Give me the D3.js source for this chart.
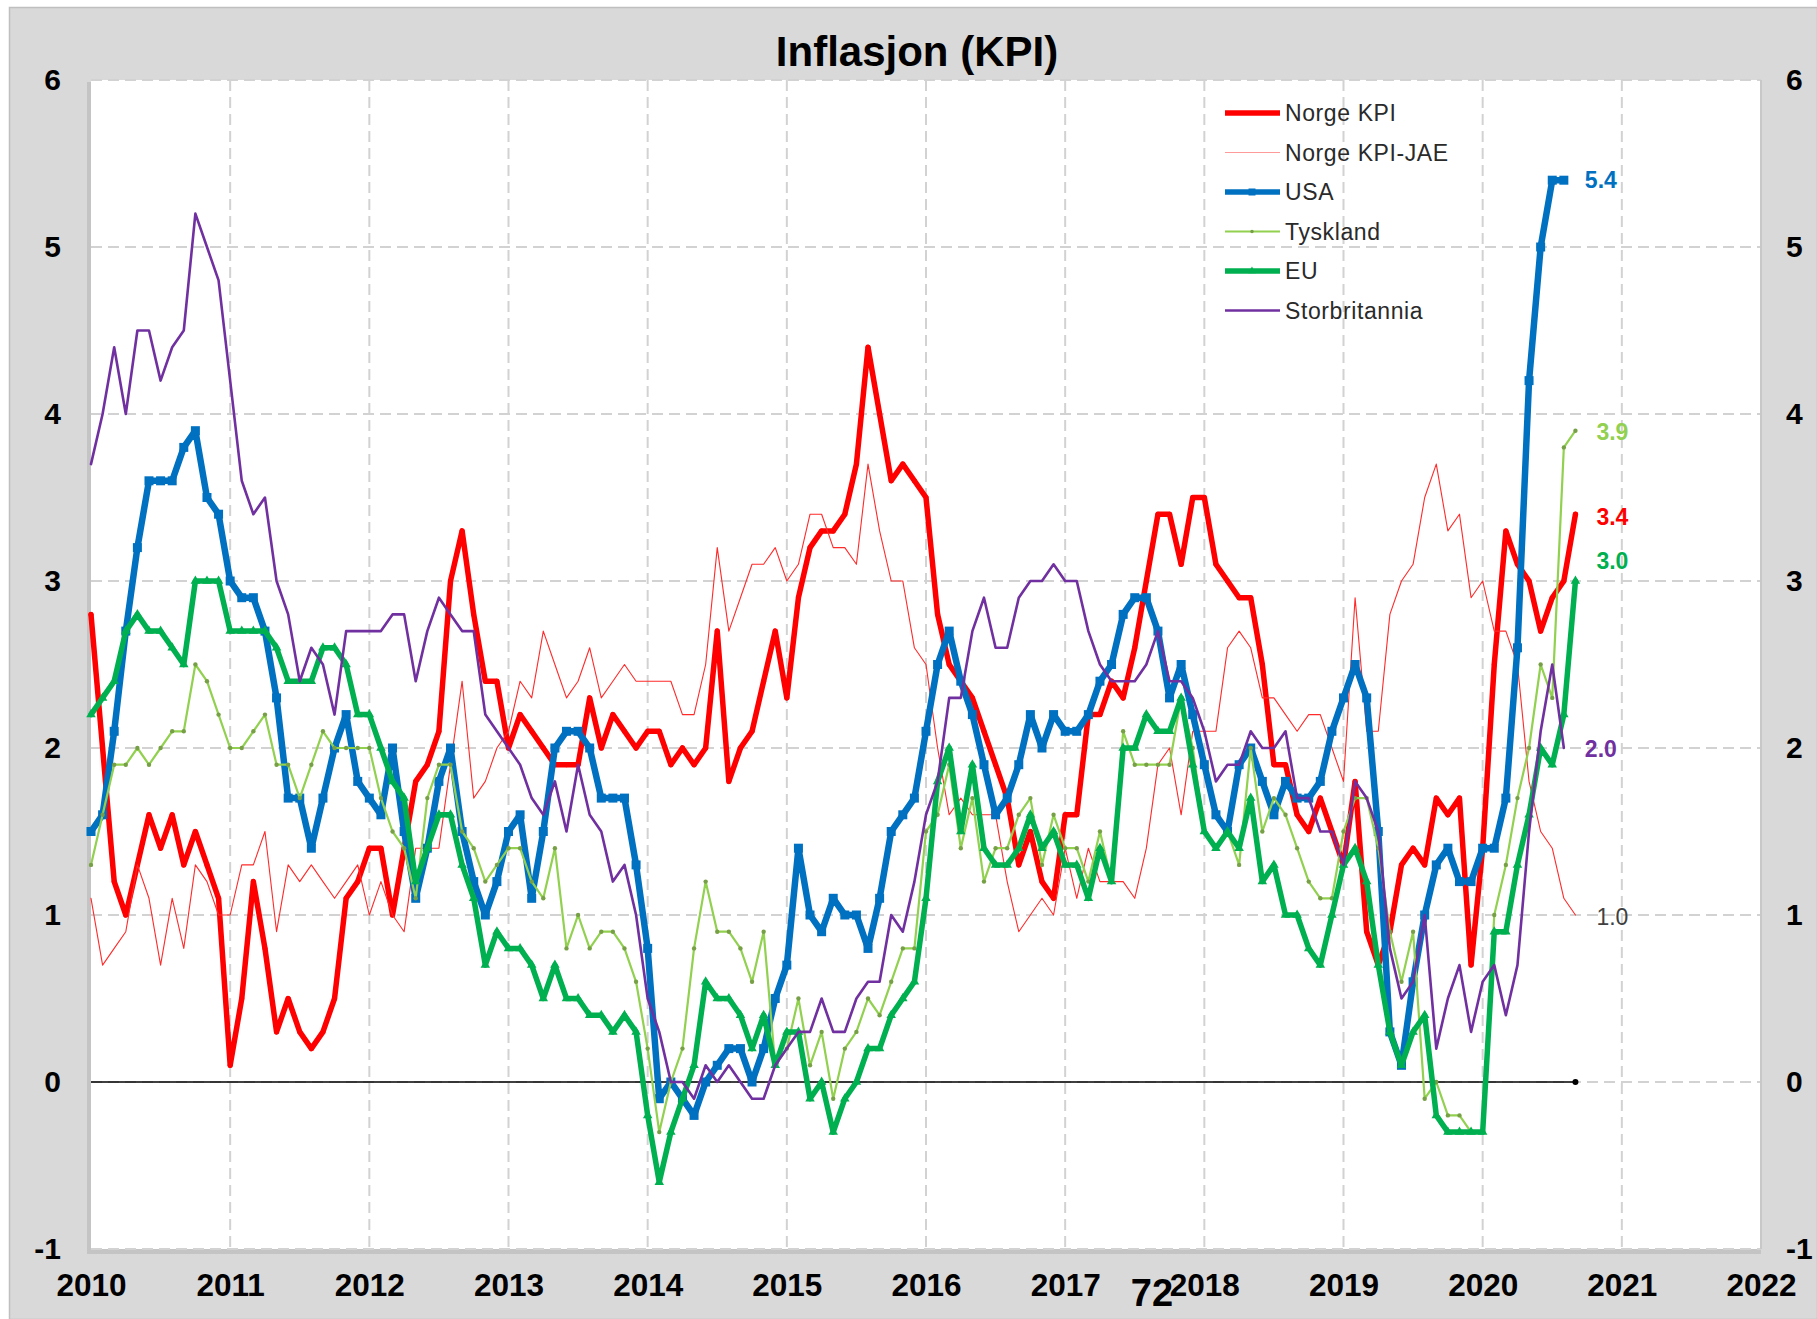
<!DOCTYPE html>
<html>
<head>
<meta charset="utf-8">
<script src="https://cdn.jsdelivr.net/npm/d3@7"></script>
<style>
  body { margin: 0; background: #fff; }
  svg { display: block; font-family: "Liberation Sans", Arial, sans-serif; }
</style>
</head>
<body>
<svg id="chart"></svg>
<script>
const width = 1817;
const height = 1319;

// monthly observations, first point = Dec 2010 drawn at the 2010 gridline
const yearTicks = d3.range(2010, 2023);
const valueTicks = [-1, 0, 1, 2, 3, 4, 5, 6];

const norgeKPI = [2.8,
  2.0, 1.2, 1.0, 1.3, 1.6, 1.4, 1.6, 1.3, 1.5, 1.3, 1.1, 0.1,
  0.5, 1.2, 0.8, 0.3, 0.5, 0.3, 0.2, 0.3, 0.5, 1.1, 1.2, 1.4,
  1.4, 1.0, 1.4, 1.8, 1.9, 2.1, 3.0, 3.3, 2.8, 2.4, 2.4, 2.0,
  2.2, 2.1, 2.0, 1.9, 1.9, 1.9, 2.3, 2.0, 2.2, 2.1, 2.0, 2.1,
  2.1, 1.9, 2.0, 1.9, 2.0, 2.7, 1.8, 2.0, 2.1, 2.4, 2.7, 2.3,
  2.9, 3.2, 3.3, 3.3, 3.4, 3.7, 4.4, 4.0, 3.6, 3.7, 3.6, 3.5,
  2.8, 2.5, 2.4, 2.3, 2.1, 1.9, 1.7, 1.3, 1.5, 1.2, 1.1, 1.6,
  1.6, 2.2, 2.2, 2.4, 2.3, 2.6, 3.0, 3.4, 3.4, 3.1, 3.5, 3.5,
  3.1, 3.0, 2.9, 2.9, 2.5, 1.9, 1.9, 1.6, 1.5, 1.7, 1.5, 1.3,
  1.8, 0.9, 0.7, 0.9, 1.3, 1.4, 1.3, 1.7, 1.6, 1.7, 0.7, 1.4,
  2.5, 3.3, 3.1, 3.0, 2.7, 2.9, 3.0, 3.4];

const norgeJAE = [1.1,
  0.7, 0.8, 0.9, 1.3, 1.1, 0.7, 1.1, 0.8, 1.3, 1.2, 1.0, 1.0,
  1.3, 1.3, 1.5, 0.9, 1.3, 1.2, 1.3, 1.2, 1.1, 1.2, 1.3, 1.0,
  1.2, 1.0, 0.9, 1.4, 1.4, 1.4, 1.9, 2.4, 1.7, 1.8, 2.0, 2.1,
  2.4, 2.3, 2.7, 2.5, 2.3, 2.4, 2.6, 2.3, 2.4, 2.5, 2.4, 2.4,
  2.4, 2.4, 2.2, 2.2, 2.5, 3.2, 2.7, 2.9, 3.1, 3.1, 3.2, 3.0,
  3.1, 3.4, 3.4, 3.2, 3.2, 3.1, 3.7, 3.3, 3.0, 3.0, 2.6, 2.5,
  2.0, 1.6, 1.7, 1.6, 1.6, 1.6, 1.2, 0.9, 1.0, 1.1, 1.0, 1.4,
  1.1, 1.4, 1.2, 1.2, 1.2, 1.1, 1.4, 1.9, 2.0, 1.6, 2.1, 2.1,
  2.1, 2.6, 2.7, 2.6, 2.3, 2.3, 2.2, 2.1, 2.2, 2.2, 2.0, 1.8,
  2.9, 2.1, 2.1, 2.8, 3.0, 3.1, 3.5, 3.7, 3.3, 3.4, 2.9, 3.0,
  2.7, 2.7, 2.5, 1.8, 1.5, 1.4, 1.1, 1.0];

const usa = [1.5,
  1.6, 2.1, 2.7, 3.2, 3.6, 3.6, 3.6, 3.8, 3.9, 3.5, 3.4, 3.0,
  2.9, 2.9, 2.7, 2.3, 1.7, 1.7, 1.4, 1.7, 2.0, 2.2, 1.8, 1.7,
  1.6, 2.0, 1.5, 1.1, 1.4, 1.8, 2.0, 1.5, 1.2, 1.0, 1.2, 1.5,
  1.6, 1.1, 1.5, 2.0, 2.1, 2.1, 2.0, 1.7, 1.7, 1.7, 1.3, 0.8,
  -0.1, 0.0, -0.1, -0.2, 0.0, 0.1, 0.2, 0.2, 0.0, 0.2, 0.5, 0.7,
  1.4, 1.0, 0.9, 1.1, 1.0, 1.0, 0.8, 1.1, 1.5, 1.6, 1.7, 2.1,
  2.5, 2.7, 2.4, 2.2, 1.9, 1.6, 1.7, 1.9, 2.2, 2.0, 2.2, 2.1,
  2.1, 2.2, 2.4, 2.5, 2.8, 2.9, 2.9, 2.7, 2.3, 2.5, 2.2, 1.9,
  1.6, 1.5, 1.9, 2.0, 1.8, 1.6, 1.8, 1.7, 1.7, 1.8, 2.1, 2.3,
  2.5, 2.3, 1.5, 0.3, 0.1, 0.6, 1.0, 1.3, 1.4, 1.2, 1.2, 1.4,
  1.4, 1.7, 2.6, 4.2, 5.0, 5.4, 5.4];

const tyskland = [1.3,
  1.6, 1.9, 1.9, 2.0, 1.9, 2.0, 2.1, 2.1, 2.5, 2.4, 2.2, 2.0,
  2.0, 2.1, 2.2, 1.9, 1.9, 1.7, 1.9, 2.1, 2.0, 2.0, 2.0, 2.0,
  1.7, 1.5, 1.4, 1.1, 1.7, 1.9, 1.9, 1.5, 1.4, 1.2, 1.3, 1.4,
  1.4, 1.2, 1.1, 1.4, 0.8, 1.0, 0.8, 0.9, 0.9, 0.8, 0.6, 0.2,
  -0.3, 0.0, 0.2, 0.8, 1.2, 0.9, 0.9, 0.8, 0.6, 0.9, 0.1, 0.2,
  0.5, 0.1, 0.3, -0.1, 0.2, 0.3, 0.5, 0.4, 0.6, 0.8, 0.8, 1.5,
  1.6, 1.9, 1.4, 1.7, 1.2, 1.4, 1.4, 1.6, 1.7, 1.3, 1.6, 1.4,
  1.4, 1.2, 1.5, 1.2, 2.1, 1.9, 1.9, 1.9, 1.9, 2.3, 2.0, 1.5,
  1.4, 1.5, 1.3, 2.0, 1.5, 1.7, 1.6, 1.4, 1.2, 1.1, 1.1, 1.5,
  1.7, 1.7, 1.4, 0.9, 0.6, 0.9, -0.1, 0.0, -0.2, -0.2, -0.3, -0.3,
  1.0, 1.3, 1.7, 2.0, 2.5, 2.3, 3.8, 3.9];

const eu = [2.2,
  2.3, 2.4, 2.7, 2.8, 2.7, 2.7, 2.6, 2.5, 3.0, 3.0, 3.0, 2.7,
  2.7, 2.7, 2.7, 2.6, 2.4, 2.4, 2.4, 2.6, 2.6, 2.5, 2.2, 2.2,
  2.0, 1.8, 1.7, 1.2, 1.4, 1.6, 1.6, 1.3, 1.1, 0.7, 0.9, 0.8,
  0.8, 0.7, 0.5, 0.7, 0.5, 0.5, 0.4, 0.4, 0.3, 0.4, 0.3, -0.2,
  -0.6, -0.3, -0.1, 0.1, 0.6, 0.5, 0.5, 0.4, 0.2, 0.4, 0.1, 0.3,
  0.3, -0.1, 0.0, -0.3, -0.1, 0.0, 0.2, 0.2, 0.4, 0.5, 0.6, 1.1,
  1.8, 2.0, 1.5, 1.9, 1.4, 1.3, 1.3, 1.4, 1.6, 1.4, 1.5, 1.3,
  1.3, 1.1, 1.4, 1.2, 2.0, 2.0, 2.2, 2.1, 2.1, 2.3, 1.9, 1.5,
  1.4, 1.5, 1.4, 1.7, 1.2, 1.3, 1.0, 1.0, 0.8, 0.7, 1.0, 1.3,
  1.4, 1.2, 0.7, 0.3, 0.1, 0.3, 0.4, -0.2, -0.3, -0.3, -0.3, -0.3,
  0.9, 0.9, 1.3, 1.6, 2.0, 1.9, 2.2, 3.0];

const storbritannia = [3.7,
  4.0, 4.4, 4.0, 4.5, 4.5, 4.2, 4.4, 4.5, 5.2, 5.0, 4.8, 4.2,
  3.6, 3.4, 3.5, 3.0, 2.8, 2.4, 2.6, 2.5, 2.2, 2.7, 2.7, 2.7,
  2.7, 2.8, 2.8, 2.4, 2.7, 2.9, 2.8, 2.7, 2.7, 2.2, 2.1, 2.0,
  1.9, 1.7, 1.6, 1.8, 1.5, 1.9, 1.6, 1.5, 1.2, 1.3, 1.0, 0.5,
  0.3, 0.0, 0.0, -0.1, 0.1, 0.0, 0.1, 0.0, -0.1, -0.1, 0.1, 0.2,
  0.3, 0.3, 0.5, 0.3, 0.3, 0.5, 0.6, 0.6, 1.0, 0.9, 1.2, 1.6,
  1.8, 2.3, 2.3, 2.7, 2.9, 2.6, 2.6, 2.9, 3.0, 3.0, 3.1, 3.0,
  3.0, 2.7, 2.5, 2.4, 2.4, 2.4, 2.5, 2.7, 2.4, 2.4, 2.3, 2.1,
  1.8, 1.9, 1.9, 2.1, 2.0, 2.0, 2.1, 1.7, 1.7, 1.5, 1.5, 1.3,
  1.8, 1.7, 1.5, 0.8, 0.5, 0.6, 1.0, 0.2, 0.5, 0.7, 0.3, 0.6,
  0.7, 0.4, 0.7, 1.5, 2.1, 2.5, 2.0];

const series = [
  {name: "Norge KPI", values: norgeKPI, color: "#ff0000", lw: 5.5, marker: "circle", ms: 2.5, label: {color: "#ff0000", bold: true, dy: 3}},
  {name: "Norge KPI-JAE", values: norgeJAE, color: "#ff2a2a", lw: 1.1, label: {color: "#404040", bold: false, dy: 2}},
  {name: "USA", values: usa, color: "#0070c0", lw: 6.5, marker: "square", ms: 9, label: {color: "#0070c0", bold: true, dy: 0}},
  {name: "Tyskland", values: tyskland, color: "#92d050", lw: 2.2, marker: "dot", ms: 2.2, label: {color: "#92d050", bold: true, dy: 1}},
  {name: "EU", values: eu, color: "#00b050", lw: 5.5, marker: "triangle", ms: 7, label: {color: "#00b050", bold: true, dy: -20}},
  {name: "Storbritannia", values: storbritannia, color: "#7030a0", lw: 2.6, label: {color: "#7030a0", bold: true, dy: 1}}
];

const margin = {left: 91, right: 1761, top: 80, bottom: 1249};

const xScale = d3.scaleLinear().domain([2010, 2022]).range([margin.left, margin.right]);
const yScale = d3.scaleLinear().domain([-1, 6]).range([margin.bottom, margin.top]);
const xOf = (i) => xScale(2010 + i / 12);

const svg = d3.select("#chart").attr("width", width).attr("height", height);

// outer grey frame
svg.append("rect").attr("x", 0).attr("y", 0).attr("width", width).attr("height", height).attr("fill", "#ffffff");
svg.append("rect").attr("x", 9.5).attr("y", 7.5).attr("width", width - 9).attr("height", height - 7)
  .attr("fill", "#d9d9d9").attr("stroke", "#bfbfbf").attr("stroke-width", 1.5);

// plot area with a little shadow
svg.append("rect").attr("x", margin.left - 4).attr("y", margin.top + 2)
  .attr("width", margin.right - margin.left + 4).attr("height", margin.bottom - margin.top + 3)
  .attr("fill", "#c4c4c4");
svg.append("rect").attr("x", margin.left).attr("y", margin.top)
  .attr("width", margin.right - margin.left).attr("height", margin.bottom - margin.top)
  .attr("fill", "#ffffff");

// gridlines
const grid = svg.append("g").attr("stroke", "#d2d2d2").attr("stroke-width", 2).attr("stroke-dasharray", "11,6");
grid.selectAll("line.h").data(valueTicks).enter().append("line")
  .attr("class", "h")
  .attr("x1", margin.left).attr("x2", margin.right)
  .attr("y1", d => yScale(d)).attr("y2", d => yScale(d));
grid.selectAll("line.v").data(yearTicks.slice(1)).enter().append("line")
  .attr("class", "v")
  .attr("x1", d => xScale(d)).attr("x2", d => xScale(d))
  .attr("y1", margin.top).attr("y2", margin.bottom);

// plot right edge
svg.append("line").attr("x1", margin.right).attr("x2", margin.right).attr("y1", margin.top).attr("y2", margin.bottom)
  .attr("stroke", "#c8c8c8").attr("stroke-width", 2);

// axes (labels only), plain hyphen for negatives like the original
const plain = d => String(d);
const axisFont = (g, size) => {
  g.select(".domain").remove();
  g.selectAll(".tick line").remove();
  g.selectAll("text").attr("font-size", size).attr("font-weight", "bold").attr("fill", "#000")
    .attr("font-family", "'Liberation Sans', Arial, sans-serif");
};
svg.append("g").attr("transform", `translate(${margin.left},0)`)
  .call(d3.axisLeft(yScale).tickValues(valueTicks).tickSize(0).tickPadding(30).tickFormat(plain))
  .call(g => axisFont(g, 30));
svg.append("g").attr("transform", `translate(${margin.right},0)`)
  .call(d3.axisRight(yScale).tickValues(valueTicks).tickSize(0).tickPadding(25).tickFormat(plain))
  .call(g => axisFont(g, 30));
svg.append("g").attr("transform", `translate(0,${margin.bottom})`)
  .call(d3.axisBottom(xScale).tickValues(yearTicks).tickSize(0).tickPadding(25).tickFormat(plain))
  .call(g => axisFont(g, 31.5));

// title
svg.append("text").attr("x", 917).attr("y", 66).attr("text-anchor", "middle")
  .attr("font-size", 42).attr("font-weight", "bold").attr("fill", "#000").text("Inflasjon (KPI)");

// page number that sits on the picture
svg.append("text").attr("x", 1152).attr("y", 1306).attr("text-anchor", "middle")
  .attr("font-size", 38).attr("font-weight", "bold").attr("fill", "#000").text("72");

// zero line
const nMonths = d3.max(series, s => s.values.length);
svg.append("line")
  .attr("x1", xOf(0)).attr("x2", xOf(nMonths - 1))
  .attr("y1", yScale(0)).attr("y2", yScale(0))
  .attr("stroke", "#000").attr("stroke-width", 1.6);
svg.append("circle").attr("cx", xOf(nMonths - 1)).attr("cy", yScale(0)).attr("r", 3).attr("fill", "#000");

const lineGenerator = d3.line().x((d, i) => xOf(i)).y(d => yScale(d));

function drawMarkers(g, s, pts) {
  if (s.marker === "square") {
    g.selectAll("rect").data(pts).enter().append("rect")
      .attr("x", d => d[0] - s.ms / 2).attr("y", d => d[1] - s.ms / 2)
      .attr("width", s.ms).attr("height", s.ms).attr("fill", s.color);
  } else if (s.marker === "triangle") {
    const sym = d3.symbol().type(d3.symbolTriangle).size(s.ms * s.ms * 0.8);
    g.selectAll("path.m").data(pts).enter().append("path").attr("class", "m")
      .attr("d", sym).attr("transform", d => `translate(${d[0]},${d[1]})`).attr("fill", s.color);
  } else if (s.marker === "dot") {
    g.selectAll("circle").data(pts).enter().append("circle")
      .attr("cx", d => d[0]).attr("cy", d => d[1]).attr("r", s.ms).attr("fill", "#77a046");
  } else if (s.marker === "circle") {
    g.selectAll("circle").data(pts).enter().append("circle")
      .attr("cx", d => d[0]).attr("cy", d => d[1]).attr("r", s.ms).attr("fill", s.color);
  }
}

series.forEach(s => {
  const g = svg.append("g").attr("class", "serie");
  g.append("path").datum(s.values)
    .attr("d", lineGenerator)
    .attr("fill", "none").attr("stroke", s.color).attr("stroke-width", s.lw)
    .attr("stroke-linejoin", "round").attr("stroke-linecap", "round");
  const pts = s.values.map((v, i) => [xOf(i), yScale(v)]);
  drawMarkers(g, s, pts);
});

// end labels
series.forEach(s => {
  const last = s.values.length - 1;
  svg.append("text")
    .attr("x", xOf(last) + 21).attr("y", yScale(s.values[last]) + s.label.dy)
    .attr("dy", "0.36em")
    .attr("font-size", 23).attr("font-weight", s.label.bold ? "bold" : "normal")
    .attr("fill", s.label.color)
    .text(d3.format(".1f")(s.values[last]));
});

// legend
const legend = svg.append("g").attr("transform", "translate(1225,113)");
const rows = legend.selectAll("g").data(series).enter().append("g")
  .attr("transform", (d, i) => `translate(0,${i * 39.5})`);
rows.append("line").attr("x1", 0).attr("x2", 55).attr("y1", 0).attr("y2", 0)
  .attr("stroke", d => d.name === "Norge KPI-JAE" ? "#ff9a9a" : d.color)
  .attr("stroke-width", d => Math.min(d.lw, 5.5));
rows.each(function(d) {
  if (d.marker) drawMarkers(d3.select(this), Object.assign({}, d, {ms: d.marker === "square" ? 7 : d.ms * 0.8}), [[27, 0]]);
});
rows.append("text").attr("x", 60).attr("y", 0).attr("dy", "0.36em")
  .attr("font-size", 23).attr("letter-spacing", "0.6px").attr("fill", "#2a2a2a").text(d => d.name);
</script>
</body>
</html>
